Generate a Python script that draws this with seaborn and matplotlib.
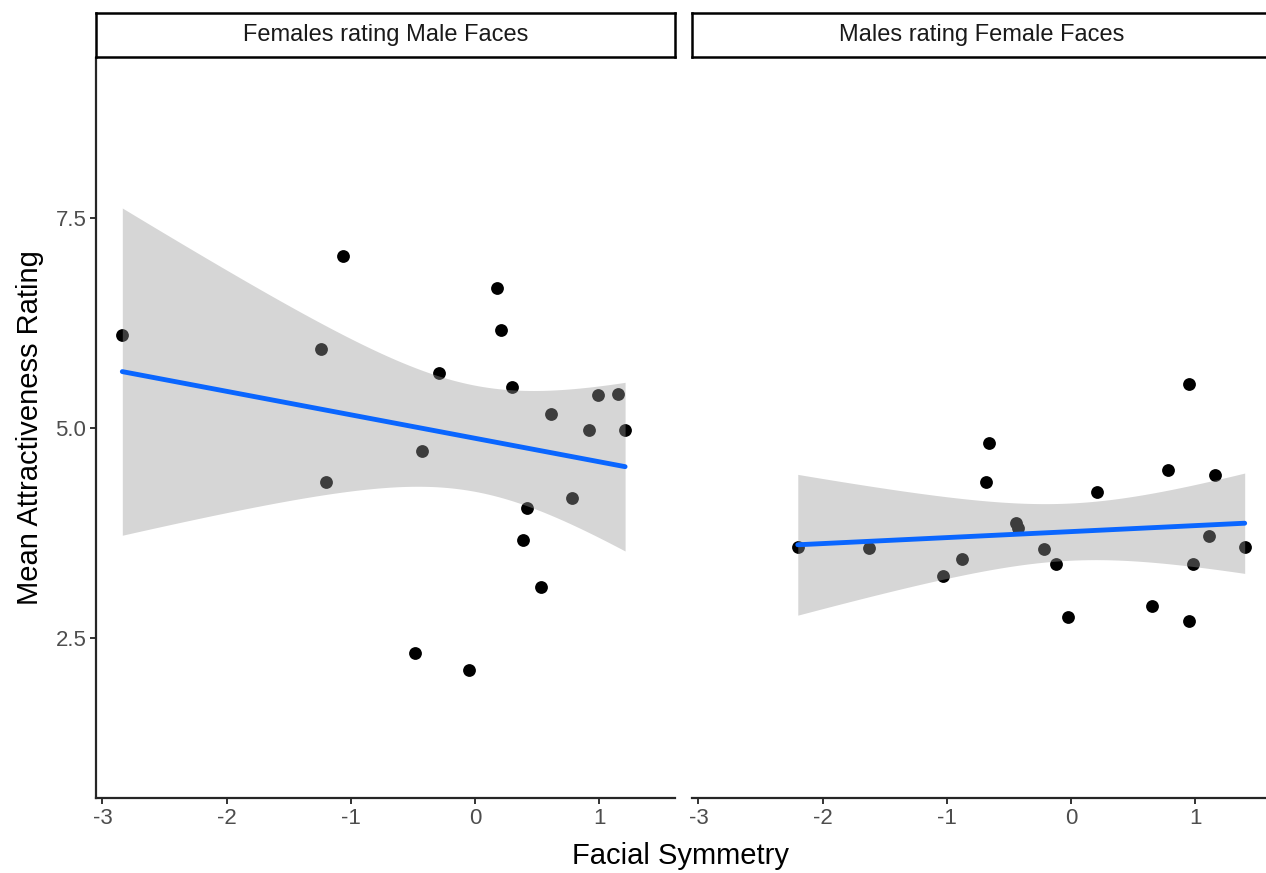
import matplotlib

matplotlib.use("Agg")

import matplotlib.pyplot as plt
import numpy as np
import pandas as pd
import seaborn as sns

# facet labels
panels = ["Females rating Male Faces", "Males rating Female Faces"]

# females rating male faces
female_symmetry = [-2.84, -1.06, -1.24, -1.20, -0.29, -0.43, -0.48, -0.05, 0.18, 0.21,
                   0.30, 0.61, 0.42, 0.39, 0.53, 0.78, 0.92, 0.99, 1.15, 1.21]
female_rating = [6.11, 7.04, 5.94, 4.36, 5.65, 4.73, 2.33, 2.12, 6.67, 6.17,
                 5.49, 5.17, 4.05, 3.67, 3.11, 4.17, 4.98, 5.39, 5.40, 4.98]

# males rating female faces
male_symmetry = [-2.20, -1.63, -1.03, -0.88, -0.66, -0.68, -0.44, -0.43, -0.22, -0.12,
                 -0.02, 0.21, 0.65, 0.78, 0.95, 0.95, 0.98, 1.11, 1.16, 1.40]
male_rating = [3.58, 3.57, 3.24, 3.44, 4.82, 4.36, 3.87, 3.81, 3.56, 3.38,
               2.75, 4.24, 2.88, 4.50, 5.52, 2.71, 3.38, 3.72, 4.44, 3.58]

x_ticks = [-3, -2, -1, 0, 1]
y_ticks = [2.5, 5.0, 7.5]

df = pd.concat([
    pd.DataFrame({"symmetry": female_symmetry, "rating": female_rating, "panel": panels[0]}),
    pd.DataFrame({"symmetry": male_symmetry, "rating": male_rating, "panel": panels[1]}),
])

sns.set_theme(style="ticks")
plt.rcParams["font.family"] = ["Liberation Sans", "DejaVu Sans"]

W, H = 1266, 873
fig = plt.figure(figsize=(W / 100, H / 100), dpi=100)


def frac(x0, y0, x1, y1):
    return [x0 / W, 1 - y1 / H, (x1 - x0) / W, (y1 - y0) / H]


xmin = min(df["symmetry"])
xmax = max(df["symmetry"])
pad = 0.05 * (xmax - xmin)
xlim = (xmin - pad, xmax + pad)
ylim = (1 - 0.4, 9 + 0.4)
T_975_DF18 = 2.100922

panel_boxes = [(96, 58, 675, 798), (692, 58, 1271, 798)]
for i, (name, box) in enumerate(zip(panels, panel_boxes)):
    ax = fig.add_axes(frac(*box))
    sub = df[df["panel"] == name]
    sns.scatterplot(data=sub, x="symmetry", y="rating", color="black", s=85,
                    linewidth=0, ax=ax, zorder=1)
    sns.regplot(data=sub, x="symmetry", y="rating", scatter=False, ci=None,
                color="#0A66FF", line_kws={"linewidth": 3.5, "zorder": 3}, ax=ax)

    # standard linear-model confidence band, like geom_smooth(method = "lm")
    x = sub["symmetry"].to_numpy()
    y = sub["rating"].to_numpy()
    slope, intercept = np.polyfit(x, y, 1)
    resid = y - (intercept + slope * x)
    s = np.sqrt(np.sum(resid ** 2) / (len(x) - 2))
    grid = np.linspace(x.min(), x.max(), 100)
    se = s * np.sqrt(1 / len(x) + (grid - x.mean()) ** 2 / np.sum((x - x.mean()) ** 2))
    fit = intercept + slope * grid
    ax.fill_between(grid, fit - T_975_DF18 * se, fit + T_975_DF18 * se,
                    color="#999999", alpha=0.4, linewidth=0, zorder=2)

    ax.set_xlim(xlim)
    ax.set_ylim(ylim)
    ax.set_xticks(x_ticks)
    ax.set_xticklabels([str(t) for t in x_ticks])
    ax.set_yticks(y_ticks)
    ax.set_yticklabels([f"{t:.1f}" for t in y_ticks])
    ax.set_xlabel("")
    ax.set_ylabel("")
    ax.tick_params(labelsize=16, labelcolor="#4D4D4D", length=4, width=1.4,
                   color="#333333", pad=3)
    for side in ["top", "right"]:
        ax.spines[side].set_visible(False)
    ax.spines["bottom"].set_linewidth(1.6)
    ax.spines["left"].set_linewidth(1.6)
    if i == 1:
        ax.spines["left"].set_visible(False)
        ax.tick_params(axis="y", left=False, labelleft=False)

    # facet strip
    sx0, _, sx1, _ = box
    strip = fig.add_axes(frac(sx0, 13, sx1, 57))
    strip.set_xticks([])
    strip.set_yticks([])
    for sp in strip.spines.values():
        sp.set_linewidth(1.8)
        sp.set_color("black")
    strip.text(0.5, 0.5, name, ha="center", va="center", fontsize=17,
               color="#1A1A1A", transform=strip.transAxes)

fig.text(681 / W, 1 - 856 / H, "Facial Symmetry", ha="center", va="center",
         fontsize=21, color="black")
fig.text(30 / W, 1 - 428 / H, "Mean Attractiveness Rating", ha="center",
         va="center", rotation=90, fontsize=21, color="black")

fig.savefig("out.png", dpi=100)
